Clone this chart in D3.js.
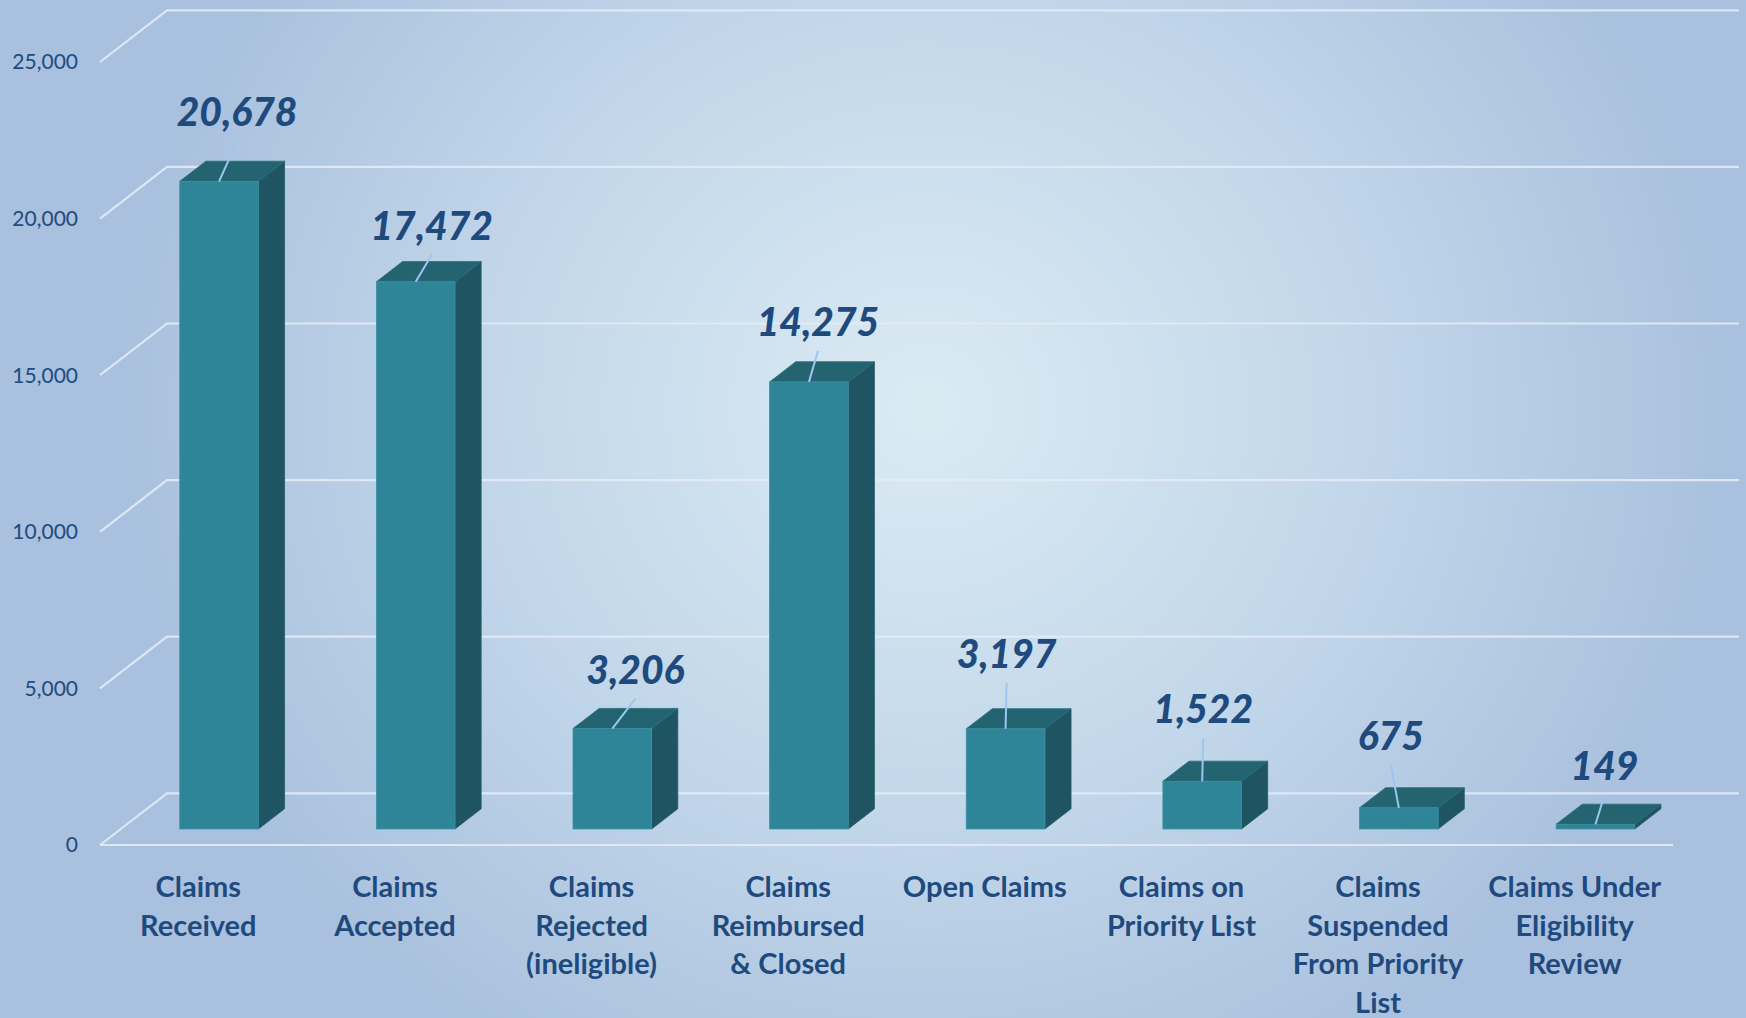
<!DOCTYPE html>
<html>
<head>
<meta charset="utf-8">
<script src="https://cdn.jsdelivr.net/npm/d3@7"></script>
<style>
  body { margin: 0; overflow: hidden; background: #b4c9e3; }
  text { font-family: Lato, "Open Sans", sans-serif; }
</style>
</head>
<body>
<script>
// datos del grafico
const categories = ["Claims Received", "Claims Accepted", "Claims Rejected (ineligible)",
  "Claims Reimbursed & Closed", "Open Claims", "Claims on Priority List",
  "Claims Suspended From Priority List", "Claims Under Eligibility Review"];
const values = [20678, 17472, 3206, 14275, 3197, 1522, 675, 149];
const categoryLines = [
  ["Claims", "Received"],
  ["Claims", "Accepted"],
  ["Claims", "Rejected", "(ineligible)"],
  ["Claims", "Reimbursed", "& Closed"],
  ["Open Claims"],
  ["Claims on", "Priority List"],
  ["Claims", "Suspended", "From Priority", "List"],
  ["Claims Under", "Eligibility", "Review"]
];
const yTicks = [0, 5000, 10000, 15000, 20000, 25000];

// etiquetas movidas a mano (como en la hoja original): [dx, dy] desde la cara superior
const labelNudge = [[18, -55], [16, -42], [23, -45], [9, -46], [1, -61], [1, -58], [-8, -58], [9, -44]];

const width = 1746, height = 1018;
const floorLeft = 100, floorRight = 1673;
const depthX = 67, depthY = 51.7;   // profundidad del suelo 3D
const t0 = 0.31, t1 = 0.7;          // posicion de la barra dentro del suelo

const svg = d3.select("body").append("svg")
  .attr("width", width)
  .attr("height", height);

// fondo degradado
const defs = svg.append("defs");
const grad = defs.append("radialGradient")
  .attr("id", "bg")
  .attr("cx", "0.53").attr("cy", "0.4")
  .attr("r", "0.75")
  .attr("gradientTransform", "translate(0.53,0.4) scale(0.62,1) translate(-0.53,-0.4)");
grad.append("stop").attr("offset", "0").attr("stop-color", "#dbebf4");
grad.append("stop").attr("offset", "0.55").attr("stop-color", "#c1d6e9");
grad.append("stop").attr("offset", "1").attr("stop-color", "#a9c0de");

svg.append("rect")
  .attr("width", width).attr("height", height)
  .attr("fill", "url(#bg)");

const x = d3.scaleBand()
  .domain(categories)
  .range([floorLeft, floorRight]);

const y = d3.scaleLinear()
  .domain([0, 25000])
  .range([845, 62]);

// lineas de cuadricula (pared lateral + pared del fondo)
const grid = svg.append("g");
grid.selectAll("path")
  .data(yTicks)
  .enter().append("path")
  .attr("d", d => {
    let yy = y(d);
    return "M" + floorLeft + "," + yy +
      "L" + (floorLeft + depthX) + "," + (yy - depthY) +
      "L1739," + (yy - depthY);
  })
  .attr("fill", "none")
  .attr("stroke", "#e2ebf6")
  .attr("stroke-width", 2.2)
  .attr("stroke-opacity", 0.9);

// linea frontal del suelo
grid.append("line")
  .attr("x1", floorLeft).attr("x2", floorRight)
  .attr("y1", y(0)).attr("y2", y(0))
  .attr("stroke", "#e2ebf6")
  .attr("stroke-width", 2.2)
  .attr("stroke-opacity", 0.9);

// etiquetas del eje y
svg.append("g").selectAll("text")
  .data(yTicks)
  .enter().append("text")
  .attr("x", 78)
  .attr("y", d => y(d))
  .attr("dy", "0.35em")
  .attr("text-anchor", "end")
  .attr("font-size", 21)
  .attr("fill", "#214b7e")
  .text(d => d3.format(",")(d));

// barras 3D
const bw = x.bandwidth() * 0.4;
const ddx = (t1 - t0) * depthX, ddy = (t1 - t0) * depthY;

let bars = categories.map((c, i) => {
  let x0 = x(c) + (x.bandwidth() - bw) / 2 + t0 * depthX;
  return {
    i: i,
    x0: x0,
    x1: x0 + bw,
    top: y(values[i]) - t0 * depthY,
    bottom: y(0) - t0 * depthY
  };
});

const g = svg.append("g");
let b = g.selectAll("g").data(bars).enter().append("g");

// cara lateral
b.append("path")
  .attr("d", d => "M" + d.x1 + "," + d.top + "L" + (d.x1 + ddx) + "," + (d.top - ddy) +
    "L" + (d.x1 + ddx) + "," + (d.bottom - ddy) + "L" + d.x1 + "," + d.bottom + "Z")
  .attr("fill", "#1f5462")
  .attr("stroke", "#235c6a")
  .attr("stroke-width", 0.8);

// cara superior
b.append("path")
  .attr("d", d => "M" + d.x0 + "," + d.top + "L" + d.x1 + "," + d.top +
    "L" + (d.x1 + ddx) + "," + (d.top - ddy) + "L" + (d.x0 + ddx) + "," + (d.top - ddy) + "Z")
  .attr("fill", "#236470")
  .attr("stroke", "#2a6e7b")
  .attr("stroke-width", 0.8);

// cara frontal
b.append("rect")
  .attr("x", d => d.x0)
  .attr("y", d => d.top)
  .attr("width", bw)
  .attr("height", d => d.bottom - d.top)
  .attr("fill", "#2e8598")
  .attr("stroke", "#3b90a3")
  .attr("stroke-width", 0.8);

// lineas guia y etiquetas de valor
const labels = svg.append("g");
bars.forEach(d => {
  let cx = (d.x0 + d.x1) / 2;
  let lx = cx + labelNudge[d.i][0];
  let ly = d.top + labelNudge[d.i][1];
  labels.append("line")
    .attr("x1", lx).attr("y1", ly + 15)
    .attr("x2", cx).attr("y2", d.top)
    .attr("stroke", "#a0c5ee")
    .attr("stroke-width", 2);
  labels.append("text")
    .attr("x", lx)
    .attr("y", ly)
    .attr("text-anchor", "middle")
    .attr("font-size", 39)
    .attr("font-weight", 900)
    .attr("font-style", "italic")
    .attr("fill", "#1f4a7e")
    .text(d3.format(",")(values[d.i]));
});

// etiquetas de categoria
const cat = svg.append("g").selectAll("text")
  .data(categories)
  .enter().append("text")
  .attr("x", d => x(d) + x.bandwidth() / 2)
  .attr("y", 897)
  .attr("text-anchor", "middle")
  .attr("font-size", 29)
  .attr("font-weight", "bold")
  .attr("fill", "#1f4a7e");

cat.selectAll("tspan")
  .data((d, i) => categoryLines[i])
  .enter().append("tspan")
  .attr("x", function() { return this.parentNode.getAttribute("x"); })
  .attr("dy", (d, j) => j === 0 ? 0 : 38.5)
  .text(d => d);
</script>
</body>
</html>
